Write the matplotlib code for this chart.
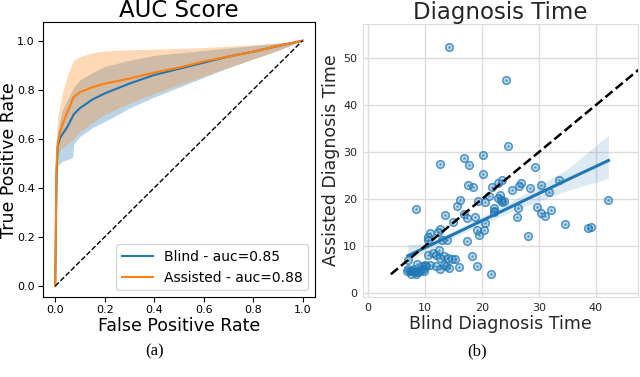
import numpy as np
import matplotlib
matplotlib.use("Agg")
import matplotlib.pyplot as plt

# ROC data
fpr = [0, 0.005, 0.01, 0.02, 0.03, 0.05, 0.07, 0.075, 0.1, 0.15, 0.2, 0.3, 0.4, 0.5, 0.6, 0.7, 0.8, 0.9, 1.0]
blind_tpr = [0, 0.45, 0.57, 0.605, 0.62, 0.65, 0.69, 0.70, 0.725, 0.76, 0.785, 0.825, 0.86, 0.885, 0.91, 0.935, 0.955, 0.978, 1.0]
blind_low = [0, 0.30, 0.49, 0.50, 0.51, 0.515, 0.525, 0.58, 0.61, 0.645, 0.67, 0.725, 0.77, 0.81, 0.85, 0.89, 0.925, 0.96, 1.0]
blind_high = [0, 0.58, 0.63, 0.68, 0.72, 0.76, 0.80, 0.81, 0.84, 0.87, 0.895, 0.92, 0.94, 0.95, 0.96, 0.97, 0.98, 0.99, 1.0]
assist_tpr = [0, 0.48, 0.58, 0.63, 0.66, 0.71, 0.76, 0.77, 0.79, 0.81, 0.825, 0.845, 0.87, 0.89, 0.915, 0.935, 0.955, 0.978, 1.0]
assist_low = [0, 0.38, 0.53, 0.555, 0.565, 0.58, 0.595, 0.60, 0.63, 0.665, 0.70, 0.745, 0.785, 0.82, 0.855, 0.89, 0.925, 0.96, 1.0]
assist_high = [0, 0.62, 0.69, 0.74, 0.79, 0.86, 0.91, 0.92, 0.935, 0.95, 0.958, 0.963, 0.965, 0.968, 0.972, 0.977, 0.983, 0.99, 1.0]

# diagnosis times
blind_time = [14.3, 24.3, 24.5, 20.1, 16.8, 12.7, 17.8, 29.3, 20.2, 17.5, 18.4, 23.5, 22.8, 21.8,
              26.8, 26.5, 25.3, 28.5, 30.4, 33.5, 31.7, 23.2, 23.3, 23.8, 21.2, 19.3, 20.6, 16.1,
              15.7, 8.4, 22.2, 22.1, 26.3, 29.6, 32.1, 30.3, 31.1, 26.2, 42.2, 34.5, 38.6, 39.1,
              28.0, 13.5, 16.8, 17.4, 18.8, 20.6, 14.9, 19.2, 20.3, 19.4, 17.3, 12.7, 12.2, 10.8,
              10.6, 10.6, 12.9, 13.8, 21.6, 19.2, 16.0, 18.3, 10.5, 11.4, 12.5, 12.0, 12.6, 13.3,
              14.0, 14.7, 15.3, 7.0, 12.0, 13.4, 13.7, 14.3, 12.6, 8.6, 9.4, 10.0, 10.2, 10.8,
              9.6, 9.8, 6.8, 7.3, 7.8, 8.2, 8.8, 9.1, 7.6, 8.4, 7.0, 8.0, 22.1, 22.9, 23.5]
assist_time = [52.3, 45.3, 31.3, 29.4, 28.7, 27.5, 27.2, 26.8, 25.3, 22.9, 22.6, 24.1, 23.5, 22.6,
               23.5, 22.7, 21.9, 22.3, 23.0, 24.1, 21.5, 20.9, 19.9, 19.6, 20.6, 19.5, 19.3, 19.7,
               18.6, 17.9, 18.2, 17.2, 18.0, 18.3, 17.7, 17.0, 16.3, 16.2, 19.9, 14.7, 13.8, 14.1,
               12.1, 16.7, 16.9, 16.0, 16.2, 14.9, 15.1, 13.5, 13.5, 12.3, 11.0, 13.7, 13.0, 12.8,
               11.9, 11.2, 11.2, 11.2, 4.1, 5.7, 5.5, 7.8, 8.2, 8.5, 9.1, 8.0, 7.4, 7.9,
               7.4, 7.2, 7.2, 7.1, 5.7, 6.0, 5.7, 5.3, 5.1, 6.2, 5.7, 6.0, 5.8, 6.0,
               5.1, 4.6, 4.6, 4.8, 4.6, 4.4, 4.4, 4.8, 4.1, 4.1, 5.1, 5.1, 17.5, 20.3, 19.4]

# regression line and its band
reg_x = [7, 10, 15, 20, 25, 30, 35, 42.2]
reg_y = [7.93, 9.66, 12.5, 15.4, 18.3, 21.2, 24.1, 28.2]
reg_low = [6.6, 8.7, 11.8, 14.6, 17.2, 19.6, 21.8, 24.4]
reg_high = [10.3, 10.6, 13.2, 16.2, 19.4, 22.8, 26.4, 33.6]
diag = [4, 48]

fig = plt.figure(figsize=(6.4, 3.77), dpi=100)

# (a) ROC
ax1 = fig.add_axes([0.067, 0.212, 0.425, 0.729])
ax1.fill_between(fpr, blind_low, blind_high, color='C0', alpha=0.3, lw=0)
ax1.fill_between(fpr, assist_low, assist_high, color='C1', alpha=0.3, lw=0)
ax1.plot(fpr, blind_tpr, color='C0', lw=1.5, label='Blind - auc=0.85')
ax1.plot(fpr, assist_tpr, color='C1', lw=1.5, label='Assisted - auc=0.88')
ax1.plot([0, 1], [0, 1], 'k--', lw=1)
ax1.set_xlim(-0.05, 1.05)
ax1.set_ylim(-0.045, 1.075)
ax1.set_xticks(np.arange(0, 1.01, 0.2))
ax1.set_yticks(np.arange(0, 1.01, 0.2))
ax1.tick_params(labelsize=8, pad=2.5)
ax1.set_title('AUC Score', fontsize=16.5, pad=0)
ax1.set_xlabel('False Positive Rate', fontsize=12.5, labelpad=1)
ax1.set_ylabel('True Positive Rate', fontsize=12.5, labelpad=-1)
ax1.legend(loc='lower right', fontsize=10, handlelength=2.2)

# (b) diagnosis time
ax2 = fig.add_axes([0.567, 0.212, 0.43, 0.724])
ax2.grid(True, color='#dddddd', lw=1)
ax2.set_axisbelow(True)
for s in ax2.spines.values():
    s.set_color('#dddddd')
ax2.fill_between(reg_x, reg_low, reg_high, color='C0', alpha=0.15, lw=0)
ax2.scatter(blind_time, assist_time, marker='o', s=30, facecolor=(0.12, 0.47, 0.71, 0.3),
            edgecolor=(0.12, 0.47, 0.71, 0.75), lw=1.1)
ax2.scatter(blind_time, assist_time, marker='*', s=7, color='C0', alpha=0.8, lw=0)
ax2.plot(reg_x, reg_y, color='C0', lw=2.2)
ax2.plot(diag, diag, 'k--', lw=1.8)
ax2.set_xlim(-0.9, 47.4)
ax2.set_ylim(-0.85, 57.2)
ax2.set_xticks([0, 10, 20, 30, 40])
ax2.set_yticks([0, 10, 20, 30, 40, 50])
ax2.tick_params(length=0, labelsize=8, labelcolor='#262626', pad=4)
ax2.set_title('Diagnosis Time', fontsize=16.5, color='#262626', pad=2)
ax2.set_xlabel('Blind Diagnosis Time', fontsize=12.5, color='#262626', labelpad=2)
ax2.set_ylabel('Assisted Diagnosis Time', fontsize=12.5, color='#262626', labelpad=2)

fig.text(0.242, 0.069, '(a)', ha='center', va='center', fontsize=12, family='Liberation Serif')
fig.text(0.745, 0.069, '(b)', ha='center', va='center', fontsize=12, family='Liberation Serif')

fig.savefig('out.png', dpi=100)
